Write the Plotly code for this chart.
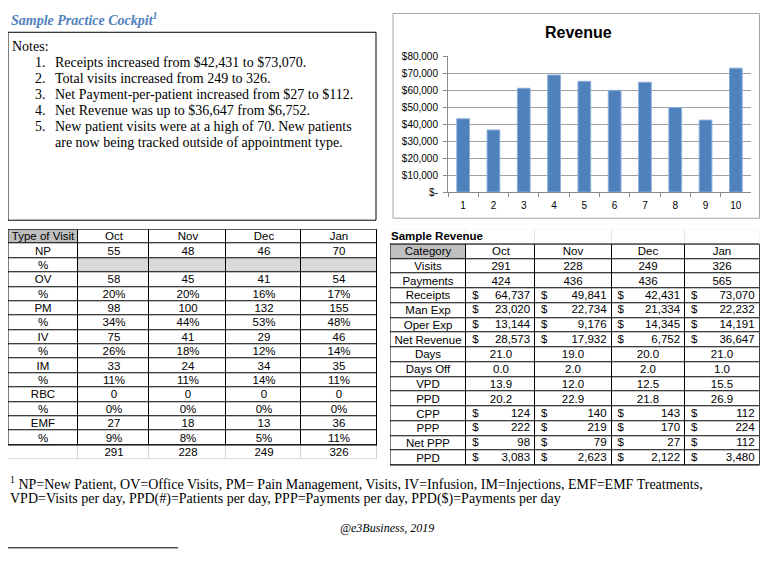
import plotly.graph_objects as go

# the page puts an 8px body margin round the plot; positions below are the
# reference's pixels, mapped into the figure by px()/py()
FIG_W, FIG_H = 752, 550

def px(x):
    return min(max(x - 8, 0), FIG_W - 0.5) / FIG_W

def py(y):
    fy = (y - 6) / 0.977 - 8
    return 1 - max(fy, 0.5) / FIG_H

# ---- data ----
months = ["Oct", "Nov", "Dec", "Jan"]

# type of visit table
np_visits = [55, 48, 46, 70]
ov_visits = [58, 45, 41, 54]
ov_pct = [20, 20, 16, 17]
pm_visits = [98, 100, 132, 155]
pm_pct = [34, 44, 53, 48]
iv_visits = [75, 41, 29, 46]
iv_pct = [26, 18, 12, 14]
im_visits = [33, 24, 34, 35]
im_pct = [11, 11, 14, 11]
rbc_visits = [0, 0, 0, 0]
rbc_pct = [0, 0, 0, 0]
emf_visits = [27, 18, 13, 36]
emf_pct = [9, 8, 5, 11]
total_visits = [291, 228, 249, 326]

# sample revenue table
payments = [424, 436, 436, 565]
receipts = [64737, 49841, 42431, 73070]
man_exp = [23020, 22734, 21334, 22232]
oper_exp = [13144, 9176, 14345, 14191]
net_revenue = [28573, 17932, 6752, 36647]
days = [21.0, 19.0, 20.0, 21.0]
days_off = [0.0, 2.0, 2.0, 1.0]
vpd = [13.9, 12.0, 12.5, 15.5]
ppd_count = [20.2, 22.9, 21.8, 26.9]
cpp = [124, 140, 143, 112]
ppp = [222, 219, 170, 224]
net_ppp = [98, 79, 27, 112]
ppd_dollars = [3083, 2623, 2122, 3480]

# revenue bar chart
periods = ["1", "2", "3", "4", "5", "6", "7", "8", "9", "10"]
revenue = [43200, 36600, 61200, 69000, 65300, 60000, 64737, 49841, 42431, 73070]
ytick_vals = [0, 10000, 20000, 30000, 40000, 50000, 60000, 70000, 80000]
ytick_text = ["$-", "$10,000", "$20,000", "$30,000", "$40,000",
              "$50,000", "$60,000", "$70,000", "$80,000"]

# text blocks
notes = [
    ["Receipts increased from $42,431 to $73,070."],
    ["Total visits increased from 249 to 326."],
    ["Net Payment-per-patient increased from $27 to $112."],
    ["Net Revenue was up to $36,647 from $6,752."],
    ["New patient visits were at a high of 70. New patients",
     "are now being tracked outside of appointment type."],
]
footnote = [
    "<sup>1</sup> NP=New Patient, OV=Office Visits, PM= Pain Management, Visits, IV=Infusion, IM=Injections, EMF=EMF Treatments,",
    "VPD=Visits per day, PPD(#)=Patients per day, PPP=Payments per day, PPD($)=Payments per day",
]

SERIF = "Liberation Serif"
SANS = "Liberation Sans"
CELL_FONT = dict(family=SANS, size=11.5, color="black")
FILL_SCALE = [[0, "white"], [0.5, "#D9D9D9"], [1, "#BFBFBF"]]

fig = go.Figure()


def table_layer(z, edges, xa, ya, scale, zmax, text=None, gap=0):
    # one heatmap brick per cell; the gaps let the layer below show as grid lines
    fig.add_trace(go.Heatmap(
        z=z, x=edges, y=list(range(len(z) + 1)), xaxis=xa, yaxis=ya,
        colorscale=scale, zmin=0, zmax=zmax, showscale=False, hoverinfo="skip",
        xgap=gap, ygap=gap, text=text,
        texttemplate="%{text}" if text else None, textfont=CELL_FONT,
    ))


def text_marks(xs, ys, labels, pos, xa, ya):
    fig.add_trace(go.Scatter(
        x=xs, y=ys, text=labels, mode="text", textposition=pos,
        textfont=CELL_FONT, xaxis=xa, yaxis=ya, hoverinfo="skip",
        cliponaxis=False,
    ))


# ---- type of visit table ----
visit_rows = [
    ("NP", np_visits, "n"), ("%", None, "blank"),
    ("OV", ov_visits, "n"), ("%", ov_pct, "p"),
    ("PM", pm_visits, "n"), ("%", pm_pct, "p"),
    ("IV", iv_visits, "n"), ("%", iv_pct, "p"),
    ("IM", im_visits, "n"), ("%", im_pct, "p"),
    ("RBC", rbc_visits, "n"), ("%", rbc_pct, "p"),
    ("EMF", emf_visits, "n"), ("%", emf_pct, "p"),
    ("", total_visits, "n"),
]
# first column loses the few pixels that fall under the page margin
left_widths = [70, 71, 77, 75, 76]
left_edges = [sum(left_widths[:i]) for i in range(len(left_widths) + 1)]

left_text = [["Type of Visit"] + months]
left_fill = [[2, 0, 0, 0, 0]]
for label, vals, kind in visit_rows:
    row = [label]
    for m in range(4):
        if kind == "blank":
            row.append("")
        elif kind == "p":
            row.append(f"{vals[m]}%")
        else:
            row.append(str(vals[m]))
    left_text.append(row)
    left_fill.append([0] + [1 if kind == "blank" else 0] * 4)
left_lines = [[1] * 5 for _ in range(len(left_text) - 1)] + [[0] * 5]

table_layer(left_lines, left_edges, "x2", "y2", [[0, "#D4D4D4"], [1, "black"]], 1)
table_layer(left_fill, left_edges, "x2", "y2", FILL_SCALE, 2, text=left_text, gap=1)
fig.add_shape(type="rect", xref="x2", yref="y2",
              x0=left_edges[0], x1=left_edges[-1], y0=0, y1=len(left_text) - 1,
              line=dict(color="black", width=1))

# ---- sample revenue table ----
rev_rows = [
    ("Category", months, "hdr"),
    ("Visits", total_visits, "n"),
    ("Payments", payments, "n"),
    ("Receipts", receipts, "$"),
    ("Man Exp", man_exp, "$"),
    ("Oper Exp", oper_exp, "$"),
    ("Net Revenue", net_revenue, "$"),
    ("Days", days, "d"),
    ("Days Off", days_off, "d"),
    ("VPD", vpd, "d"),
    ("PPD", ppd_count, "d"),
    ("CPP", cpp, "$"),
    ("PPP", ppp, "$"),
    ("Net PPP", net_ppp, "$"),
    ("PPD", ppd_dollars, "$"),
]
rev_widths = [78, 70, 78, 75, 76]
rev_edges = [sum(rev_widths[:i]) for i in range(len(rev_widths) + 1)]

rev_text = [[""] * 5]
rev_fill = [[0] * 5]
rev_lines = [[0] * 5]
money_x, money_y, money_t = [], [], []
dollar_x, dollar_y = [], []
for i, (label, vals, kind) in enumerate(rev_rows, start=1):
    row = [label]
    for m in range(4):
        v = vals[m]
        if kind in ("hdr", "n"):
            row.append(str(v))
        elif kind == "d":
            row.append(f"{v:.1f}")
        else:
            row.append("")
            money_x.append(rev_edges[m + 2] - 5)
            money_y.append(i + 0.5)
            money_t.append(f"{v:,}")
            dollar_x.append(rev_edges[m + 1] + 6)
            dollar_y.append(i + 0.5)
    rev_text.append(row)
    rev_fill.append([2 if kind == "hdr" else 0, 0, 0, 0, 0])
    rev_lines.append([1] * 5)

table_layer(rev_lines, rev_edges, "x3", "y3", [[0, "#E6E6E6"], [1, "black"]], 1)
table_layer(rev_fill, rev_edges, "x3", "y3", FILL_SCALE, 2, text=rev_text, gap=1)
fig.add_shape(type="rect", xref="x3", yref="y3",
              x0=rev_edges[0], x1=rev_edges[-1], y0=1, y1=len(rev_text),
              line=dict(color="black", width=1))
text_marks(money_x, money_y, money_t, "middle left", "x3", "y3")
text_marks(dollar_x, dollar_y, ["$"] * len(dollar_x), "middle right", "x3", "y3")
text_marks([rev_edges[0] + 1], [0.5], ["<b>Sample Revenue</b>"], "middle right", "x3", "y3")

# ---- revenue bar chart ----
fig.add_trace(go.Bar(
    x=periods, y=revenue,
    marker=dict(color="#4F81BD", line=dict(color="#8CAEDB", width=1)),
    xaxis="x", yaxis="y", hoverinfo="skip",
))

hidden = dict(visible=False, fixedrange=True, showgrid=False, zeroline=False)
fig.update_layout(
    width=FIG_W, height=FIG_H,
    margin=dict(l=0, r=0, t=0, b=0),
    paper_bgcolor="white", plot_bgcolor="white",
    showlegend=False, bargap=0.58,
    xaxis=dict(domain=[px(448), px(751)], anchor="y", type="category",
               showline=True, linecolor="#8C8C8C", ticks="outside",
               tickson="boundaries", ticklen=4, tickcolor="#8C8C8C",
               ticklabelstandoff=4,
               tickfont=dict(family=SANS, size=10, color="black"),
               showgrid=False, fixedrange=True),
    yaxis=dict(domain=[py(192), py(57)], anchor="x", range=[0, 80000],
               tickvals=ytick_vals, ticktext=ytick_text,
               showline=True, linecolor="#8C8C8C", ticks="outside",
               ticklen=4, tickcolor="#8C8C8C", gridcolor="#A0A0A0",
               ticklabelstandoff=3,
               tickfont=dict(family=SANS, size=10, color="black"),
               zeroline=False, fixedrange=True),
    xaxis2=dict(domain=[px(1), px(377)], anchor="y2",
                range=[left_edges[0], left_edges[-1]], **hidden),
    yaxis2=dict(domain=[py(458), py(229)], anchor="x2",
                range=[len(left_text), 0], **hidden),
    xaxis3=dict(domain=[px(390), px(767)], anchor="y3",
                range=[rev_edges[0], rev_edges[-1]], **hidden),
    yaxis3=dict(domain=[py(464), py(229)], anchor="x3",
                range=[len(rev_text), 0], **hidden),
)

# ---- page decorations ----
fig.add_shape(type="rect", xref="paper", yref="paper",
              x0=px(4), x1=px(376), y0=py(220), y1=py(33),
              line=dict(color="black", width=1))
fig.add_shape(type="rect", xref="paper", yref="paper",
              x0=px(393), x1=px(762), y0=py(218), y1=py(12),
              line=dict(color="#A6A6A6", width=1))
fig.add_shape(type="line", xref="paper", yref="paper",
              x0=px(8), x1=px(178), y0=py(546), y1=py(546),
              line=dict(color="black", width=1))


def text(x, y, s, size, family=SERIF, color="black", xanchor="left"):
    fig.add_annotation(x=px(x), y=py(y), xref="paper", yref="paper",
                       text=s, showarrow=False, xanchor=xanchor, yanchor="middle",
                       borderpad=0, borderwidth=0,
                       font=dict(family=family, size=size, color=color))


text(11, 20, "<b><i>Sample Practice Cockpit<sup>1</sup></i></b>", 14, color="#4F81BD")
text(578, 33, "<b>Revenue</b>", 16, family=SANS, xanchor="center")

text(12, 47, "Notes:", 14)
line_y = 63
for i, item in enumerate(notes):
    text(35, line_y, f"{i + 1}.", 14)
    for ln in item:
        text(55, line_y, ln, 14)
        line_y += 16

text(10, 482, footnote[0], 14)
text(10, 497, footnote[1], 14)
text(387, 526, "<i>@e3Business, 2019</i>", 12, xanchor="center")

fig.write_html("out.html")
